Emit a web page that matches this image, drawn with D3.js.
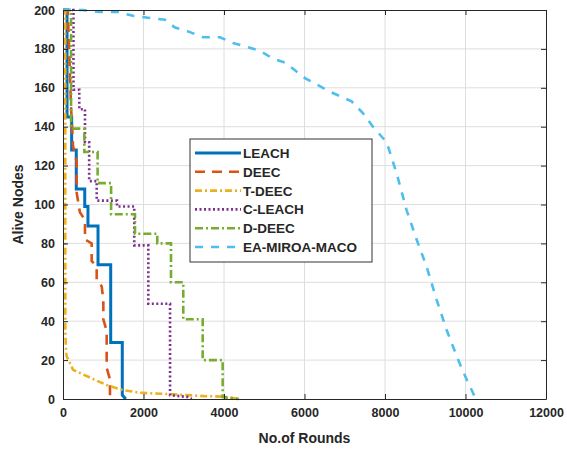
<!DOCTYPE html>
<html>
<head>
<meta charset="utf-8">
<script src="https://cdn.jsdelivr.net/npm/d3@7"></script>
<style>
  body { margin: 0; background: #fff; }
  svg text { font-family: "Liberation Sans", Arial, sans-serif; font-weight: bold; fill: #262626; }
</style>
</head>
<body>
<div id="chart"></div>
<script>
// ||================================||
// || DATA                           ||
// ||================================||

var seriesNames = ["LEACH", "DEEC", "T-DEEC", "C-LEACH", "D-DEEC", "EA-MIROA-MACO"];

var xTicks = [0, 2000, 4000, 6000, 8000, 10000, 12000];
var yTicks = [0, 20, 40, 60, 80, 100, 120, 140, 160, 180, 200];

// [round, alive nodes]
var leach = [[0,200],[100,200],[100,145],[215,145],[215,128],[330,128],[330,108],[540,108],[540,99],[620,99],
  [620,89],[870,89],[870,69],[1185,69],[1185,29],[1473,29],[1473,2],[1560,0]];
var deec = [[0,200],[120,200],[200,150],[250,130],[340,122],[340,106],[420,96],[546,92],[546,82],[712,80],
  [712,71],[837,68],[837,61],[961,58],[1002,51],[1002,41],[1085,35],[1085,16],[1167,10],[1167,0],[1250,0]];
var tdeec = [[0,200],[55,200],[58,35],[70,27],[90,22],[250,15],[670,11],[1080,7.2],[1490,4.6],[1910,3.2],
  [2740,2.4],[3500,1.5],[4000,1.2],[4370,0]];
var cleach = [[0,200],[260,200],[260,159],[405,159],[405,149],[546,149],[546,132],[650,132],[650,112],[837,112],
  [837,102],[1340,102],[1340,99],[1770,99],[1770,79],[2120,79],[2120,49],[2660,49],[2660,2],[3100,1],[3200,0]];
var ddeec = [[0,200],[200,200],[200,139],[530,139],[530,127],[860,127],[860,111],[1195,111],[1195,95],[1789,95],
  [1789,85],[2342,85],[2342,80],[2683,80],[2683,60],[2988,60],[2988,41],[3470,41],[3470,20],[3967,20],[3967,1],[4370,0]];
var eamiroa = [[0,200],[500,200],[919,199],[1366,199],[1739,197],[2111,196],[2534,195],[2782,191],[3105,189],
  [3478,186],[3900,186],[4223,183],[4571,181],[4894,179],[5216,175],[5514,173],[5763,169],[6011,165],[6632,158],
  [7171,153],[7451,147],[7700,140],[8041,132],[8289,116],[8538,97],[8786,82],[9034,68],[9283,51],[9531,35.5],
  [9820,20],[10028,10],[10234,1],[10300,0]];

var seriesData = [leach, deec, tdeec, cleach, ddeec, eamiroa];
var colors = ["#0072BD", "#D95319", "#EDB120", "#7E2F8E", "#77AC30", "#4DBEEE"];
var dashes = ["none", "10,7", "7,3,2,3", "2,2.5", "8,3,2,3", "8,8"];
var widths = [3, 2.6, 2.6, 2.6, 2.6, 2.6];

// ||================================||
// || CHART                          ||
// ||================================||

var width = 567, height = 450;
var margin = {left: 63, right: 21, top: 10, bottom: 51};
var pw = width - margin.left - margin.right,
    ph = height - margin.top - margin.bottom;

var svg = d3.select("#chart").append("svg")
    .attr("width", width)
    .attr("height", height);

var x = d3.scaleLinear().domain([0, 12000]).range([0, pw]);
var y = d3.scaleLinear().domain([0, 200]).range([ph, 0]);

var g = svg.append("g")
    .attr("transform", "translate(" + margin.left + "," + margin.top + ")");

g.append("rect").attr("width", pw).attr("height", ph).attr("fill", "#fff");

// grid
g.append("g").selectAll("line").data(xTicks.slice(1, -1)).enter().append("line")
    .attr("x1", function(d) { return x(d); }).attr("x2", function(d) { return x(d); })
    .attr("y1", 0).attr("y2", ph)
    .attr("stroke", "#dedede").attr("stroke-width", 1);
g.append("g").selectAll("line").data(yTicks.slice(1, -1)).enter().append("line")
    .attr("y1", function(d) { return y(d); }).attr("y2", function(d) { return y(d); })
    .attr("x1", 0).attr("x2", pw)
    .attr("stroke", "#dedede").attr("stroke-width", 1);

g.append("clipPath").attr("id", "clip")
  .append("rect").attr("x", -2).attr("y", -2).attr("width", pw + 4).attr("height", ph + 4);

var line = d3.line()
    .x(function(d) { return x(d[0]); })
    .y(function(d) { return y(d[1]); });

g.append("g").attr("clip-path", "url(#clip)")
  .selectAll("path").data(seriesData).enter().append("path")
    .attr("d", line)
    .attr("fill", "none")
    .attr("stroke", function(d, i) { return colors[i]; })
    .attr("stroke-width", function(d, i) { return widths[i]; })
    .attr("stroke-dasharray", function(d, i) { return dashes[i]; });

// axes, ticks inward on all four sides
var xAxis = g.append("g").attr("transform", "translate(0," + ph + ")")
    .call(d3.axisBottom(x).tickValues(xTicks).tickFormat(d3.format("d"))
      .tickSizeInner(-5).tickSizeOuter(0).tickPadding(9));
var xTop = g.append("g")
    .call(d3.axisTop(x).tickValues(xTicks).tickSizeInner(-5).tickSizeOuter(0).tickFormat(""));
var yAxis = g.append("g")
    .call(d3.axisLeft(y).tickValues(yTicks).tickSizeInner(-5).tickSizeOuter(0).tickPadding(8));
var yRight = g.append("g").attr("transform", "translate(" + pw + ",0)")
    .call(d3.axisRight(y).tickValues(yTicks).tickSizeInner(-5).tickSizeOuter(0).tickFormat(""));

[xAxis, xTop, yAxis, yRight].forEach(function(a) {
  a.select(".domain").attr("stroke", "#262626").attr("stroke-width", 1);
  a.selectAll(".tick line").attr("stroke", "#262626");
  a.selectAll("text").attr("font-size", 12.5).attr("fill", "#262626")
    .style("font-family", "'Liberation Sans', Arial, sans-serif").style("font-weight", "bold");
});

// axis labels
svg.append("text")
    .attr("x", margin.left + pw / 2)
    .attr("y", 443)
    .attr("text-anchor", "middle")
    .attr("font-size", 14)
    .text("No.of Rounds");

svg.append("text")
    .attr("transform", "translate(23," + (margin.top + ph / 2) + ") rotate(-90)")
    .attr("text-anchor", "middle")
    .attr("font-size", 14)
    .text("Alive Nodes");

// ||================================||
// || LEGEND                         ||
// ||================================||

var lg = svg.append("g").attr("transform", "translate(190,139)");
lg.append("rect")
    .attr("width", 182).attr("height", 123)
    .attr("fill", "#fff").attr("stroke", "#333").attr("stroke-width", 1);

var item = lg.selectAll(".item").data(seriesNames).enter().append("g")
    .attr("class", "item")
    .attr("transform", function(d, i) { return "translate(0," + (14 + i * 18.8) + ")"; });

item.append("line")
    .attr("x1", 5).attr("x2", 51).attr("y1", 0).attr("y2", 0)
    .attr("stroke", function(d, i) { return colors[i]; })
    .attr("stroke-width", function(d, i) { return widths[i]; })
    .attr("stroke-dasharray", function(d, i) { return dashes[i]; });

item.append("text")
    .attr("x", 53).attr("y", 5)
    .attr("font-size", 13.5)
    .text(function(d) { return d; });
</script>
</body>
</html>
